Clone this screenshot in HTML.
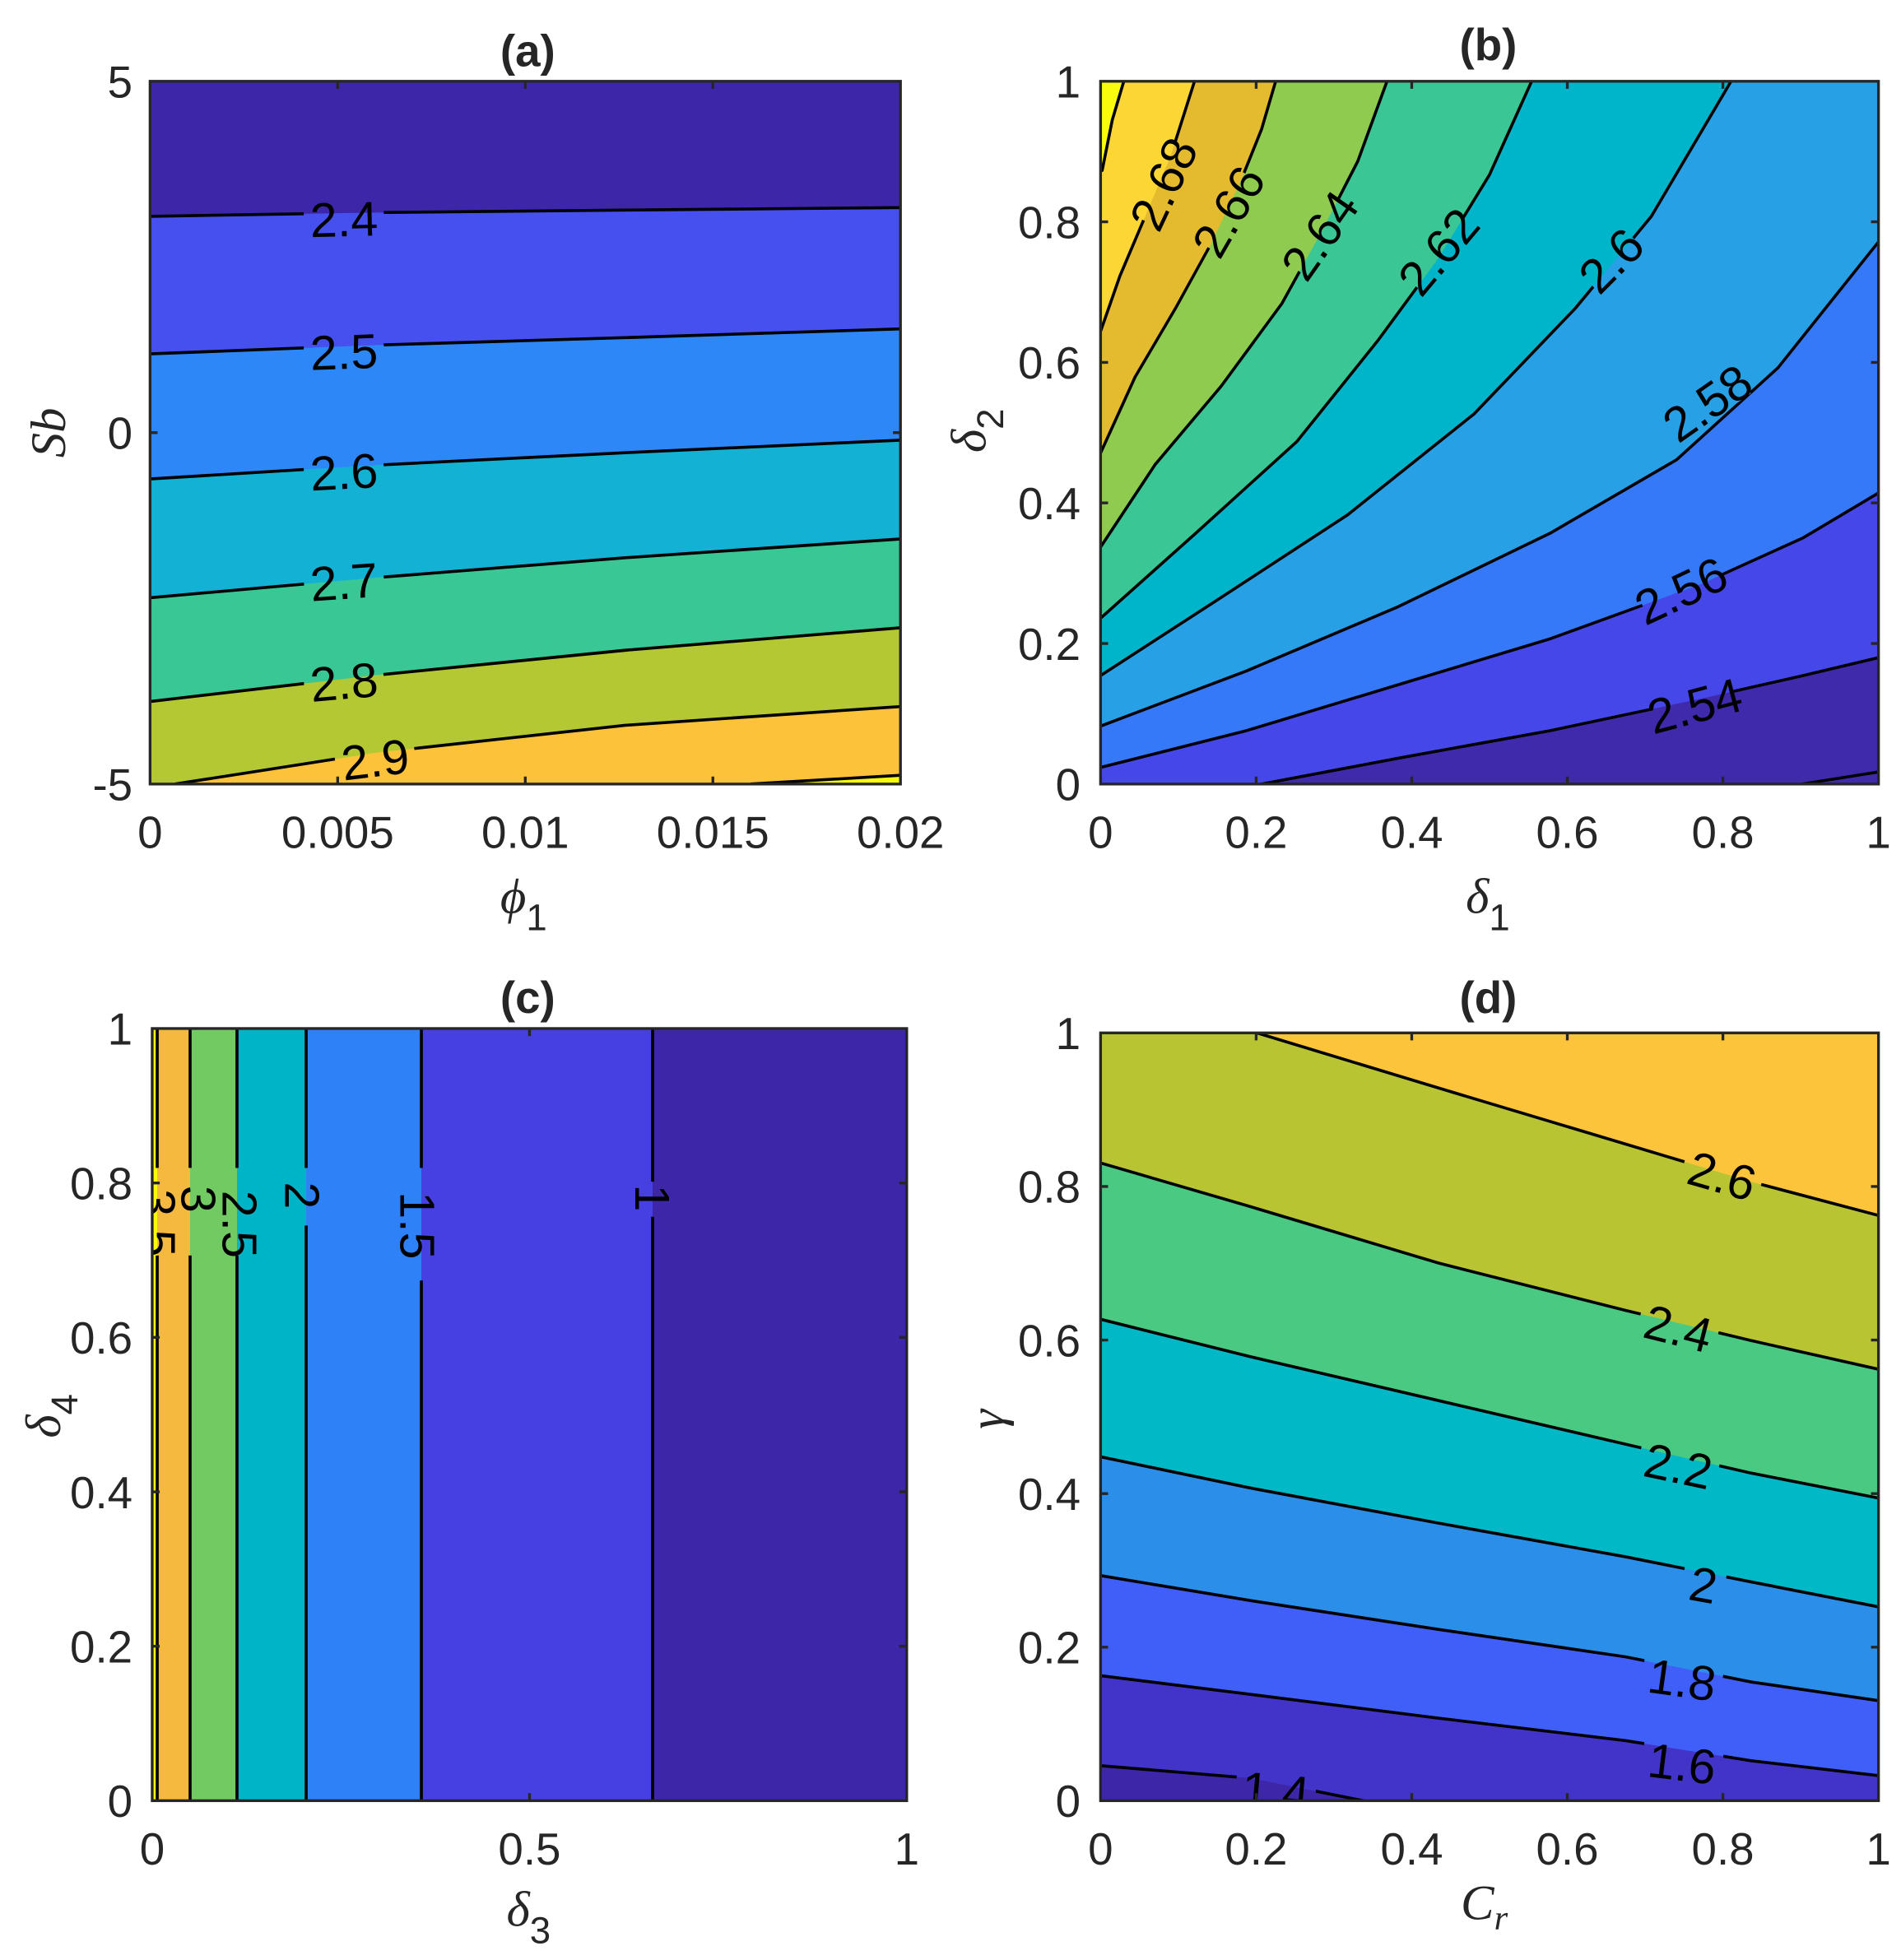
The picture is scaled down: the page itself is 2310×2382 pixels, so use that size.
<!DOCTYPE html>
<html><head><meta charset="utf-8"><style>html,body{margin:0;padding:0;background:#fff}svg{display:block}</style></head>
<body>
<svg width="2310" height="2382" viewBox="0 0 1520 1567.4" preserveAspectRatio="none" xmlns="http://www.w3.org/2000/svg" font-family="'Liberation Sans', sans-serif">
<defs>
<clipPath id="ca"><rect x="120" y="65" width="600" height="562"/></clipPath>
<clipPath id="cb"><rect x="880" y="65" width="622" height="562"/></clipPath>
<clipPath id="cc"><rect x="121.7" y="822.5" width="603.3" height="617.5"/></clipPath>
<clipPath id="cd"><rect x="880" y="826" width="622" height="614"/></clipPath>
<mask id="ma" maskUnits="userSpaceOnUse" x="0" y="0" width="1520" height="1568">
<rect x="0" y="0" width="1520" height="1568" fill="#fff"/>
<g fill="#000">
<rect x="243" y="160" width="64" height="28" transform="rotate(-1.5 275 175)"/>
<rect x="243" y="267" width="64" height="28" transform="rotate(-2 275 281)"/>
<rect x="243" y="363" width="64" height="28" transform="rotate(-3 275 377)"/>
<rect x="243" y="451" width="64" height="28" transform="rotate(-4 275 465)"/>
<rect x="243" y="531" width="64" height="28" transform="rotate(-5 275 545)"/>
<rect x="268" y="593" width="64" height="28" transform="rotate(-7 300 607)"/>
</g></mask>
<mask id="mb" maskUnits="userSpaceOnUse" x="0" y="0" width="1520" height="1568">
<rect x="0" y="0" width="1520" height="1568" fill="#fff"/>
<g fill="#000">
<rect x="897" y="133" width="66" height="28" transform="rotate(-65 930 147)"/>
<rect x="949" y="155" width="66" height="28" transform="rotate(-60 982 169)"/>
<rect x="1022" y="174" width="66" height="28" transform="rotate(-55 1055 188)"/>
<rect x="1117" y="187" width="66" height="28" transform="rotate(-50 1150 201)"/>
<rect x="1263" y="194" width="50" height="28" transform="rotate(-45 1288 208)"/>
<rect x="1332" y="308" width="66" height="28" transform="rotate(-35 1365 322)"/>
<rect x="1311" y="458" width="66" height="28" transform="rotate(-25 1344 472)"/>
<rect x="1322" y="550" width="66" height="28" transform="rotate(-15 1355 564)"/>
</g></mask>
<mask id="mc" maskUnits="userSpaceOnUse" x="0" y="0" width="1520" height="1568">
<rect x="0" y="0" width="1520" height="1568" fill="#fff"/>
<g fill="#000">
<rect x="118" y="934" width="40" height="70"/>
<rect x="148" y="934" width="20" height="48"/>
<rect x="180" y="934" width="20" height="70"/>
<rect x="235" y="934" width="20" height="46"/>
<rect x="327" y="934" width="20" height="90"/>
<rect x="512" y="945" width="20" height="28"/>
</g></mask>
<mask id="md" maskUnits="userSpaceOnUse" x="0" y="0" width="1520" height="1568">
<rect x="0" y="0" width="1520" height="1568" fill="#fff"/>
<g fill="#000">
<rect x="1345" y="926" width="64" height="28" transform="rotate(16 1377 940)"/>
<rect x="1310" y="1048" width="64" height="28" transform="rotate(14 1342 1062)"/>
<rect x="1310" y="1158" width="64" height="28" transform="rotate(12 1342 1172)"/>
<rect x="1345" y="1253" width="34" height="28" transform="rotate(10 1362 1267)"/>
<rect x="1313" y="1329" width="64" height="28" transform="rotate(8 1345 1343)"/>
<rect x="1313" y="1396" width="64" height="28" transform="rotate(7 1345 1410)"/>
<rect x="988" y="1418" width="64" height="28" transform="rotate(5 1020 1432)"/>
</g></mask>
</defs>

<!-- ===== Panel (a) ===== -->
<g clip-path="url(#ca)">
<rect x="120" y="65" width="600" height="562" fill="#f9fb0e"/>
<polygon fill="#fcc23a" points="600,627 720,620 720,65 120,65 120,627"/>
<polygon fill="#b3c833" points="140,627 300,602 500,580 720,565 720,65 120,65 120,627"/>
<polygon fill="#39c795" points="120,561 300,540 500,520 720,502 720,65 120,65"/>
<polygon fill="#13b2d5" points="120,478 300,462 500,446 720,431 720,65 120,65"/>
<polygon fill="#2e87f6" points="120,383 300,372 500,362 720,352 720,65 120,65"/>
<polygon fill="#4650ee" points="120,283 300,276 500,270 720,263 720,65 120,65"/>
<polygon fill="#3d26a8" points="120,173 300,170 500,168 720,166 720,65 120,65"/>
<g fill="none" stroke="#000" stroke-width="2.4" mask="url(#ma)">
<polyline points="120,173 300,170 500,168 720,166"/>
<polyline points="120,283 300,276 500,270 720,263"/>
<polyline points="120,383 300,372 500,362 720,352"/>
<polyline points="120,478 300,462 500,446 720,431"/>
<polyline points="120,561 300,540 500,520 720,502"/>
<polyline points="140,627 300,602 500,580 720,565"/>
<polyline points="600,627 720,620"/>
</g>
<g font-size="39" text-anchor="middle" fill="#000">
<text x="275" y="189" transform="rotate(-1.5 275 175)">2.4</text>
<text x="275" y="295" transform="rotate(-2 275 281)">2.5</text>
<text x="275" y="391" transform="rotate(-3 275 377)">2.6</text>
<text x="275" y="479" transform="rotate(-4 275 465)">2.7</text>
<text x="275" y="559" transform="rotate(-5 275 545)">2.8</text>
<text x="300" y="621" transform="rotate(-7 300 607)">2.9</text>
</g>
</g>
<g stroke="#262626" stroke-width="2.2" fill="none">
<rect x="120" y="65" width="600" height="562"/>
<path d="M270,627v-6M420,627v-6M570,627v-6M270,65v6M420,65v6M570,65v6M120,346h6M720,346h-6"/>
</g>
<g font-size="36" fill="#262626">
<g text-anchor="middle">
<text x="120" y="678">0</text><text x="270" y="678">0.005</text><text x="420" y="678">0.01</text><text x="570" y="678">0.015</text><text x="720" y="678">0.02</text>
</g>
<g text-anchor="end">
<text x="106" y="78">5</text><text x="106" y="359">0</text><text x="106" y="640">-5</text>
</g>
<text x="422" y="53" text-anchor="middle" font-weight="bold">(a)</text>
</g>
<g font-family="'Liberation Serif', serif" font-size="40" fill="#262626">
<text x="400" y="730" font-style="italic">ϕ<tspan font-family="'Liberation Sans', sans-serif" font-style="normal" font-size="30" dy="14">1</tspan></text>
<text transform="translate(52,346) rotate(-90)" text-anchor="middle" font-style="italic">Sb</text>
</g>

<!-- ===== Panel (b) ===== -->
<g clip-path="url(#cb)">
<rect x="880" y="65" width="622" height="562" fill="#3e2aaa"/>
<g transform="translate(875.2,59.2) scale(0.4047,0.3672)">
<polygon fill="#4647e8" points="265,1560 600,1490 900,1430 1200,1360 1400,1310 1560,1268 1560,0 0,0 0,1560"/>
<polygon fill="#3679f8" points="0,1512 12,1510 300,1430 600,1330 900,1230 1200,1110 1400,1010 1560,905 1560,0 0,0"/>
<polygon fill="#27a0e5" points="0,1422 12,1420 300,1300 600,1160 900,1000 1150,840 1350,640 1560,350 1560,0 0,0"/>
<polygon fill="#00b5ca" points="0,1312 12,1310 250,1140 500,960 750,740 950,510 1100,310 1266,0 0,0"/>
<polygon fill="#3ac695" points="0,1188 12,1185 200,1000 400,800 560,580 680,400 780,220 870,0 0,0"/>
<polygon fill="#8fcb4f" points="0,1035 12,1030 120,850 250,680 370,500 450,340 520,190 583,0 0,0"/>
<polygon fill="#e4ba2f" points="0,830 12,825 80,660 160,510 230,370 290,230 330,120 362,0 0,0"/>
<polygon fill="#fcd634" points="0,565 12,560 50,440 100,310 150,180 202,0 0,0"/>
<polygon fill="#f9fb0e" points="0,215 15,210 35,100 62,0 0,0"/>
</g>
<g mask="url(#mb)">
<g transform="translate(875.2,59.2) scale(0.4047,0.3672)" fill="none" stroke="#000" stroke-width="3.6" stroke-linejoin="round">
<polyline vector-effect="non-scaling-stroke" points="265,1560 600,1490 900,1430 1200,1360 1400,1310 1560,1268"/>
<polyline vector-effect="non-scaling-stroke" points="1320,1560 1560,1518"/>
<polyline vector-effect="non-scaling-stroke" points="0,1512 12,1510 300,1430 600,1330 900,1230 1200,1110 1400,1010 1560,905"/>
<polyline vector-effect="non-scaling-stroke" points="0,1422 12,1420 300,1300 600,1160 900,1000 1150,840 1350,640 1560,350"/>
<polyline vector-effect="non-scaling-stroke" points="0,1312 12,1310 250,1140 500,960 750,740 950,510 1100,310 1266,0"/>
<polyline vector-effect="non-scaling-stroke" points="0,1188 12,1185 200,1000 400,800 560,580 680,400 780,220 870,0"/>
<polyline vector-effect="non-scaling-stroke" points="0,1035 12,1030 120,850 250,680 370,500 450,340 520,190 583,0"/>
<polyline vector-effect="non-scaling-stroke" points="0,830 12,825 80,660 160,510 230,370 290,230 330,120 362,0"/>
<polyline vector-effect="non-scaling-stroke" points="0,565 12,560 50,440 100,310 150,180 202,0"/>
<polyline vector-effect="non-scaling-stroke" points="0,215 15,210 35,100 62,0"/>
</g>
</g>
<g font-size="39" text-anchor="middle" fill="#000">
<text x="930" y="161" transform="rotate(-65 930 147)">2.68</text>
<text x="982" y="183" transform="rotate(-60 982 169)">2.66</text>
<text x="1055" y="202" transform="rotate(-55 1055 188)">2.64</text>
<text x="1150" y="215" transform="rotate(-50 1150 201)">2.62</text>
<text x="1288" y="222" transform="rotate(-45 1288 208)">2.6</text>
<text x="1365" y="336" transform="rotate(-35 1365 322)">2.58</text>
<text x="1344" y="486" transform="rotate(-25 1344 472)">2.56</text>
<text x="1355" y="578" transform="rotate(-15 1355 564)">2.54</text>
</g>
</g>
<g stroke="#262626" stroke-width="2.2" fill="none">
<rect x="880" y="65" width="622" height="562"/>
<path d="M1004.4,627v-6M1128.8,627v-6M1253.2,627v-6M1377.6,627v-6M1004.4,65v6M1128.8,65v6M1253.2,65v6M1377.6,65v6M880,514.6h6M880,402.2h6M880,289.8h6M880,177.4h6M1502,514.6h-6M1502,402.2h-6M1502,289.8h-6M1502,177.4h-6"/>
</g>
<g font-size="36" fill="#262626">
<g text-anchor="middle">
<text x="880" y="678">0</text><text x="1004.4" y="678">0.2</text><text x="1128.8" y="678">0.4</text><text x="1253.2" y="678">0.6</text><text x="1377.6" y="678">0.8</text><text x="1502" y="678">1</text>
</g>
<g text-anchor="end">
<text x="864" y="640">0</text><text x="864" y="527.6">0.2</text><text x="864" y="415.2">0.4</text><text x="864" y="302.8">0.6</text><text x="864" y="190.4">0.8</text><text x="864" y="78">1</text>
</g>
<text x="1190" y="48" text-anchor="middle" font-weight="bold">(b)</text>
</g>
<g font-family="'Liberation Serif', serif" font-size="40" fill="#262626">
<text x="1172" y="730" font-style="italic">δ<tspan font-family="'Liberation Sans', sans-serif" font-style="normal" font-size="30" dy="14">1</tspan></text>
<text transform="translate(788,362) rotate(-90)" font-style="italic">δ<tspan font-family="'Liberation Sans', sans-serif" font-style="normal" font-size="30" dy="14">2</tspan></text>
</g>

<!-- ===== Panel (c) ===== -->
<g clip-path="url(#cc)">
<rect x="121.7" y="822.5" width="603.3" height="617.5" fill="#3d27a8"/>
<rect x="121.7" y="822.5" width="400.1" height="617.5" fill="#4640e2"/>
<rect x="121.7" y="822.5" width="215.2" height="617.5" fill="#2f81f7"/>
<rect x="121.7" y="822.5" width="123.1" height="617.5" fill="#00b4c8"/>
<rect x="121.7" y="822.5" width="67.8" height="617.5" fill="#71cb62"/>
<rect x="121.7" y="822.5" width="30.3" height="617.5" fill="#f5b940"/>
<rect x="121.7" y="822.5" width="4" height="617.5" fill="#f9fb0e"/>
<g stroke="#000" stroke-width="2.4" mask="url(#mc)">
<path d="M125.7,822v620M152,822v620M189.5,822v620M244.8,822v620M336.9,822v620M521.8,822v620"/>
</g>
<g font-size="39" text-anchor="middle" fill="#000">
<text x="127" y="992" transform="rotate(90 127 978)">3.5</text>
<text x="159" y="973" transform="rotate(90 159 959)">3</text>
<text x="192" y="993" transform="rotate(90 192 979)">2.5</text>
<text x="242" y="970" transform="rotate(90 242 956)">2</text>
<text x="334" y="994" transform="rotate(90 334 980)">1.5</text>
<text x="522" y="972" transform="rotate(90 522 958)">1</text>
</g>
</g>
<g stroke="#262626" stroke-width="2.2" fill="none">
<rect x="121.7" y="822.5" width="603.3" height="617.5"/>
<path d="M423.4,1440v-6M423.4,822.5v6M121.7,1316.5h6M121.7,1193h6M121.7,1069.5h6M121.7,946h6M725,1316.5h-6M725,1193h-6M725,1069.5h-6M725,946h-6"/>
</g>
<g font-size="36" fill="#262626">
<g text-anchor="middle">
<text x="121.7" y="1491">0</text><text x="423.4" y="1491">0.5</text><text x="725" y="1491">1</text>
</g>
<g text-anchor="end">
<text x="106" y="1453">0</text><text x="106" y="1329.5">0.2</text><text x="106" y="1206">0.4</text><text x="106" y="1082.5">0.6</text><text x="106" y="959">0.8</text><text x="106" y="835.5">1</text>
</g>
<text x="422" y="810" text-anchor="middle" font-weight="bold">(c)</text>
</g>
<g font-family="'Liberation Serif', serif" font-size="40" fill="#262626">
<text x="405" y="1540" font-style="italic">δ<tspan font-family="'Liberation Sans', sans-serif" font-style="normal" font-size="30" dy="14">3</tspan></text>
<text transform="translate(48,1150) rotate(-90)" font-style="italic">δ<tspan font-family="'Liberation Sans', sans-serif" font-style="normal" font-size="30" dy="14">4</tspan></text>
</g>

<!-- ===== Panel (d) ===== -->
<g clip-path="url(#cd)">
<rect x="880" y="826" width="622" height="614" fill="#3e26a8"/>
<polygon fill="#4234c8" points="880,1412 1000,1422 1100,1442 1502,1442 1502,826 880,826"/>
<polygon fill="#405ff8" points="880,1340 1000,1355 1150,1374 1300,1392 1400,1408 1502,1420 1502,826 880,826"/>
<polygon fill="#2b8fe9" points="880,1260 1000,1280 1150,1303 1300,1325 1400,1345 1502,1360 1502,826 880,826"/>
<polygon fill="#00b8c6" points="880,1165 1000,1190 1150,1218 1300,1245 1400,1265 1502,1285 1502,826 880,826"/>
<polygon fill="#4ac983" points="880,1055 1000,1085 1150,1120 1300,1155 1400,1178 1502,1198 1502,826 880,826"/>
<polygon fill="#b8c432" points="880,930 1000,965 1150,1010 1300,1048 1400,1072 1502,1095 1502,826 880,826"/>
<polygon fill="#fcc43a" points="1005,826 1150,870 1300,915 1400,945 1502,972 1502,826"/>
<g fill="none" stroke="#000" stroke-width="2.4" mask="url(#md)">
<polyline points="1005,826 1150,870 1300,915 1400,945 1502,972"/>
<polyline points="880,930 1000,965 1150,1010 1300,1048 1400,1072 1502,1095"/>
<polyline points="880,1055 1000,1085 1150,1120 1300,1155 1400,1178 1502,1198"/>
<polyline points="880,1165 1000,1190 1150,1218 1300,1245 1400,1265 1502,1285"/>
<polyline points="880,1260 1000,1280 1150,1303 1300,1325 1400,1345 1502,1360"/>
<polyline points="880,1340 1000,1355 1150,1374 1300,1392 1400,1408 1502,1420"/>
<polyline points="880,1412 1000,1422 1100,1442"/>
</g>
<g font-size="39" text-anchor="middle" fill="#000">
<text x="1377" y="954" transform="rotate(16 1377 940)">2.6</text>
<text x="1342" y="1076" transform="rotate(14 1342 1062)">2.4</text>
<text x="1342" y="1186" transform="rotate(12 1342 1172)">2.2</text>
<text x="1362" y="1281" transform="rotate(10 1362 1267)">2</text>
<text x="1345" y="1357" transform="rotate(8 1345 1343)">1.8</text>
<text x="1345" y="1424" transform="rotate(7 1345 1410)">1.6</text>
<text x="1020" y="1446" transform="rotate(5 1020 1432)">1.4</text>
</g>
</g>
<g stroke="#262626" stroke-width="2.2" fill="none">
<rect x="880" y="826" width="622" height="614"/>
<path d="M1004.4,1440v-6M1128.8,1440v-6M1253.2,1440v-6M1377.6,1440v-6M1004.4,826v6M1128.8,826v6M1253.2,826v6M1377.6,826v6M880,1317.2h6M880,1194.4h6M880,1071.6h6M880,948.8h6M1502,1317.2h-6M1502,1194.4h-6M1502,1071.6h-6M1502,948.8h-6"/>
</g>
<g font-size="36" fill="#262626">
<g text-anchor="middle">
<text x="880" y="1491">0</text><text x="1004.4" y="1491">0.2</text><text x="1128.8" y="1491">0.4</text><text x="1253.2" y="1491">0.6</text><text x="1377.6" y="1491">0.8</text><text x="1502" y="1491">1</text>
</g>
<g text-anchor="end">
<text x="864" y="1453">0</text><text x="864" y="1330.2">0.2</text><text x="864" y="1207.4">0.4</text><text x="864" y="1084.6">0.6</text><text x="864" y="961.8">0.8</text><text x="864" y="839">1</text>
</g>
<text x="1190" y="810" text-anchor="middle" font-weight="bold">(d)</text>
</g>
<g font-family="'Liberation Serif', serif" font-size="40" fill="#262626">
<text x="1168" y="1535" font-style="italic">C<tspan font-size="28" dy="8">r</tspan></text>
<text transform="translate(802,1135) rotate(-90)" text-anchor="middle" font-style="italic">γ</text>
</g>
</svg>
</body></html>
